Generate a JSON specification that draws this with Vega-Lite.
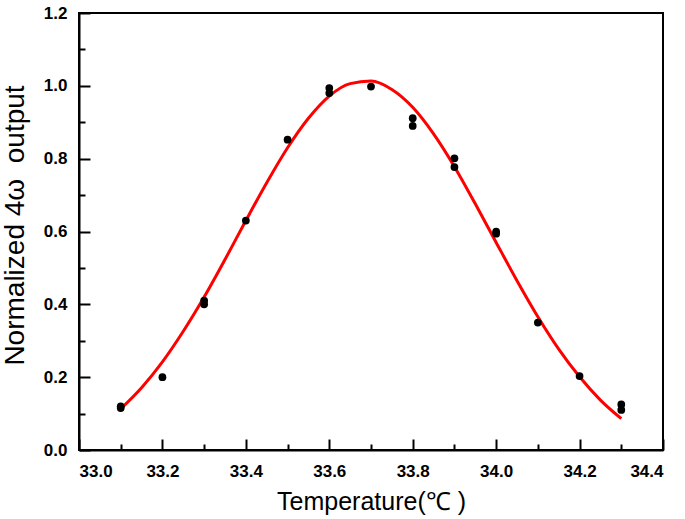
{
  "$schema": "https://vega.github.io/schema/vega-lite/v6.json",
  "width": 584,
  "height": 437,
  "autosize": {"type": "none"},
  "padding": {"left": 79, "top": 13, "right": 22, "bottom": 69},
  "background": "white",
  "config": {
    "view": {"stroke": "black", "strokeWidth": 2},
    "axis": {"domainColor": "black", "domainWidth": 2, "tickColor": "black", "tickWidth": 2, "grid": false}
  },
  "datasets": {
    "pts": [
      {"T": 33.1, "v": 0.12}, {"T": 33.1, "v": 0.115},
      {"T": 33.2, "v": 0.20},
      {"T": 33.3, "v": 0.41}, {"T": 33.3, "v": 0.40},
      {"T": 33.4, "v": 0.63},
      {"T": 33.5, "v": 0.852},
      {"T": 33.6, "v": 0.994}, {"T": 33.6, "v": 0.98},
      {"T": 33.7, "v": 0.998},
      {"T": 33.8, "v": 0.911}, {"T": 33.8, "v": 0.89},
      {"T": 33.9, "v": 0.801}, {"T": 33.9, "v": 0.777},
      {"T": 34.0, "v": 0.60}, {"T": 34.0, "v": 0.594},
      {"T": 34.1, "v": 0.35},
      {"T": 34.2, "v": 0.203},
      {"T": 34.3, "v": 0.125}, {"T": 34.3, "v": 0.11}
    ],
    "fit": [
      {"T": 33.10, "v": 0.113}, {"T": 33.15, "v": 0.171}, {"T": 33.20, "v": 0.242},
      {"T": 33.25, "v": 0.326}, {"T": 33.30, "v": 0.420}, {"T": 33.35, "v": 0.523},
      {"T": 33.40, "v": 0.630}, {"T": 33.45, "v": 0.734}, {"T": 33.50, "v": 0.830},
      {"T": 33.55, "v": 0.911}, {"T": 33.60, "v": 0.972}, {"T": 33.65, "v": 1.006},
      {"T": 33.70, "v": 1.013}, {"T": 33.75, "v": 0.990}, {"T": 33.80, "v": 0.941},
      {"T": 33.85, "v": 0.868}, {"T": 33.90, "v": 0.778}, {"T": 33.95, "v": 0.676},
      {"T": 34.00, "v": 0.570}, {"T": 34.05, "v": 0.465}, {"T": 34.10, "v": 0.366},
      {"T": 34.15, "v": 0.277}, {"T": 34.20, "v": 0.201}, {"T": 34.25, "v": 0.137},
      {"T": 34.30, "v": 0.086}
    ]
  },
  "resolve": {"axis": {"x": "independent", "y": "independent"}},
  "layer": [
    {
      "data": {"name": "fit"},
      "mark": {"type": "line", "color": "#ff0000", "strokeWidth": 3, "interpolate": "monotone"},
      "encoding": {
        "x": {"field": "T", "type": "quantitative",
          "scale": {"domain": [33.0, 34.4], "nice": false, "zero": false},
          "axis": {"orient": "bottom", "values": [33.0, 33.2, 33.4, 33.6, 33.8, 34.0, 34.2, 34.4], "format": ".1f",
            "tickSize": -11, "labelPadding": 24, "labelFont": "Liberation Sans", "labelFontWeight": "bold", "labelFontSize": 17, "labelColor": "black",
            "title": "Temperature(℃ )", "titleFont": "Liberation Sans", "titleFontWeight": "normal", "titleFontSize": 25, "titleColor": "black", "titlePadding": 10}},
        "y": {"field": "v", "type": "quantitative",
          "scale": {"domain": [0, 1.2], "nice": false},
          "axis": {"orient": "left", "values": [0, 0.2, 0.4, 0.6, 0.8, 1.0, 1.2], "format": ".1f",
            "tickSize": -11, "labelPadding": 23, "labelFont": "Liberation Sans", "labelFontWeight": "bold", "labelFontSize": 17, "labelColor": "black",
            "title": "Normalized 4ω\u00a0 output", "titleFont": "Liberation Sans", "titleFontWeight": "normal", "titleFontSize": 28, "titleColor": "black", "titlePadding": 14, "titleY": 212}}
      }
    },
    {
      "data": {"name": "pts"},
      "mark": {"type": "point", "filled": true, "color": "black", "opacity": 1, "size": 60},
      "encoding": {
        "x": {"field": "T", "type": "quantitative",
          "axis": {"orient": "bottom", "values": [33.1, 33.3, 33.5, 33.7, 33.9, 34.1, 34.3], "tickSize": -6, "labels": false, "domain": false, "title": null}},
        "y": {"field": "v", "type": "quantitative",
          "axis": {"orient": "left", "values": [0.1, 0.3, 0.5, 0.7, 0.9, 1.1], "tickSize": -6, "labels": false, "domain": false, "title": null}}
      }
    }
  ]
}
